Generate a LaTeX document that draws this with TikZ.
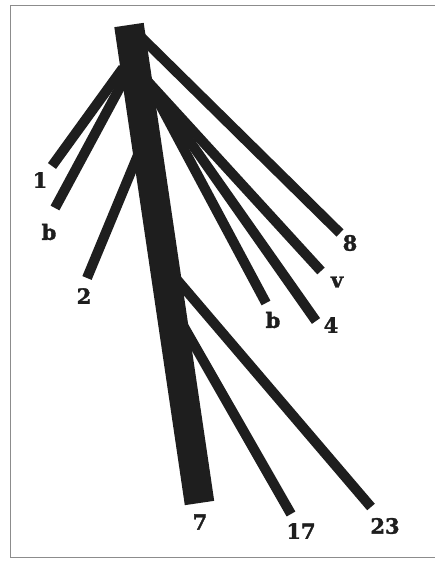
\documentclass[tikz,border=0pt]{standalone}
\usepackage{fontspec}
\newfontfamily\tipfont{DejaVu Serif}[BoldFeatures={FakeBold=1.6}]
\definecolor{ink}{RGB}{30,30,30}
\tikzset{
  limb/.style={draw=ink,line width=10pt},
  tiplabel/.style={font=\tipfont\bfseries\fontsize{21}{21}\selectfont,inner sep=0pt,text=ink},
}

\begin{document}
\begin{tikzpicture}[x=1pt,y=-1pt]
  \useasboundingbox (0,0) rectangle (435,563);
  %frame
  \draw[black!45,line width=0.8pt] (435,5) -- (10,5) -- (10,557) -- (435,557);

  %trunk
  \coordinate (top) at (129,25);
  \coordinate (foot) at (199.5,503);
  \draw[draw=ink,line width=29.7pt] (top) -- (foot);

  %left limbs
  \coordinate (s1) at (123,68);   \coordinate (e1) at (52,166);
  \coordinate (sb) at (125,78);   \coordinate (eb) at (55,208);
  \coordinate (s2) at (138,155);  \coordinate (e2) at (87,278);
  \draw[limb] (s1) -- (e1);
  \draw[limb] (sb) -- (eb);
  \draw[limb] (s2) -- (e2);

  %right limbs
  \coordinate (s8) at (140,36);   \coordinate (e8) at (340,233);
  \coordinate (sv) at (140,73);   \coordinate (ev) at (321,271);
  \coordinate (s4) at (141,72);   \coordinate (e4) at (316,321);
  \coordinate (sbb) at (142,71);  \coordinate (ebb) at (266,303);
  \draw[limb] (s8) -- (e8);
  \draw[limb] (sv) -- (ev);
  \draw[limb] (s4) -- (e4);
  \draw[limb] (sbb) -- (ebb);

  %lower limbs
  \coordinate (s23) at (175,277.4); \coordinate (e23) at (371,507);
  \coordinate (s17) at (180,320);   \coordinate (e17) at (291,514);
  \draw[limb] (s23) -- (e23);
  \draw[limb] (s17) -- (e17);

  %labels
  \node[tiplabel] (l1) at (40,180) {1};
  \node[tiplabel] (lb) at (49,232) {b};
  \node[tiplabel] (l2) at (84,296) {2};
  \node[tiplabel] (l8) at (350,243) {8};
  \node[tiplabel] (lv) at (337,282) {v};
  \node[tiplabel] (lbb) at (273,320) {b};
  \node[tiplabel] (l4) at (331,325) {4};
  \node[tiplabel] (l7) at (200,522) {7};
  \node[tiplabel] (l17) at (301,531) {17};
  \node[tiplabel] (l23) at (385,526) {23};
\end{tikzpicture}
\end{document}
